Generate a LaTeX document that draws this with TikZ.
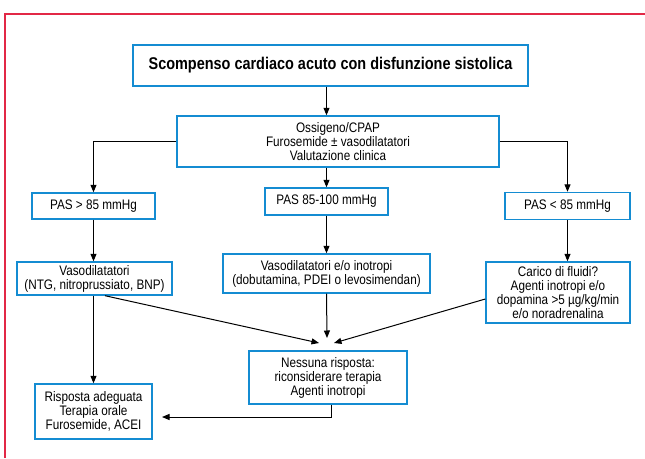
\documentclass[tikz,border=0pt]{standalone}
\usepackage{fontspec}
\setmainfont{Liberation Sans}[FakeStretch=0.85]
\usetikzlibrary{arrows.meta,calc}
\definecolor{boxblue}{RGB}{20,140,210}
\definecolor{framered}{RGB}{226,40,70}
\begin{document}
\begin{tikzpicture}[x=1pt,y=-1pt,
  box/.style={draw=boxblue,line width=1.4pt,fill=white,align=center,inner sep=0pt,
    font=\fontsize{13.8}{14}\selectfont},
  link/.style={line width=1pt,-{Triangle[length=7.5pt,width=6pt]}}]
  % page and outer frame
  \useasboundingbox (0,0) rectangle (645,458);
  \fill[white] (0,0) rectangle (645,458);
  \draw[framered,line width=1.3pt] (5,458) -- (5,14) -- (645,14);

  % boxes
  \node[box,minimum width=395pt,minimum height=41pt,font=\fontsize{17}{19}\selectfont\bfseries]
    (title) at (330.5,65.5) {Scompenso cardiaco acuto con disfunzione sistolica};
  \node[box,minimum width=322pt,minimum height=51pt] (oss) at (338,141.5)
    {Ossigeno/CPAP\\Furosemide ± vasodilatatori\\Valutazione clinica};
  \node[box,minimum width=123pt,minimum height=26pt] (pasL) at (93.5,206) {PAS > 85 mmHg};
  \node[box,minimum width=123pt,minimum height=27pt] (pasM) at (326.5,201.5) {PAS 85-100 mmHg};
  \node[box,minimum width=125pt,minimum height=27pt] (pasR) at (567.5,206) {PAS < 85 mmHg};
  \node[box,minimum width=155pt,minimum height=33pt] (vasL) at (94.5,278.5)
    {Vasodilatatori\\(NTG, nitroprussiato, BNP)};
  \node[box,minimum width=207pt,minimum height=39pt] (vasM) at (326.5,273.5)
    {Vasodilatatori e/o inotropi\\(dobutamina, PDEI o levosimendan)};
  \node[box,minimum width=144pt,minimum height=61pt] (car) at (558,292.5)
    {Carico di fluidi?\\Agenti inotropi e/o\\dopamina >5 µg/kg/min\\e/o noradrenalina};
  \node[box,minimum width=158pt,minimum height=53pt] (ness) at (328,377.5)
    {Nessuna risposta:\\riconsiderare terapia\\Agenti inotropi};
  \node[box,minimum width=117pt,minimum height=55pt] (risp) at (93.5,411.5)
    {Risposta adeguata\\Terapia orale\\Furosemide, ACEI};

  % free ends of connectors
  \coordinate (tipM) at (327,338);
  \coordinate (tipL) at (319,343);
  \coordinate (tipR) at (334,343);
  \coordinate (rispIn) at (162,417);

  % connectors
  \draw[link] (title.south -| pasM.north) -- (oss.north -| pasM.north);
  \draw[link] (oss.west) -| (pasL.north);
  \draw[link] (oss.east) -| (pasR.north);
  \draw[link] (oss.south -| pasM.north) -- (pasM.north);
  \draw[link] (pasL.south) -- (vasL.north -| pasL.south);
  \draw[link] (pasM.south) -- (vasM.north);
  \draw[link] (pasR.south) -- (car.north -| pasR.south);
  \draw[link] (vasM.south) -- (tipM);
  \draw[link] ([xshift=10.5pt]vasL.south) -- (tipL);
  \draw[link] ([yshift=-6.5pt]car.west) -- (tipR);
  \draw[link] (vasL.south -| pasL.south) -- (risp.north -| pasL.south);
  \draw[link] ([xshift=3pt]ness.south) |- (rispIn);
\end{tikzpicture}
\end{document}
